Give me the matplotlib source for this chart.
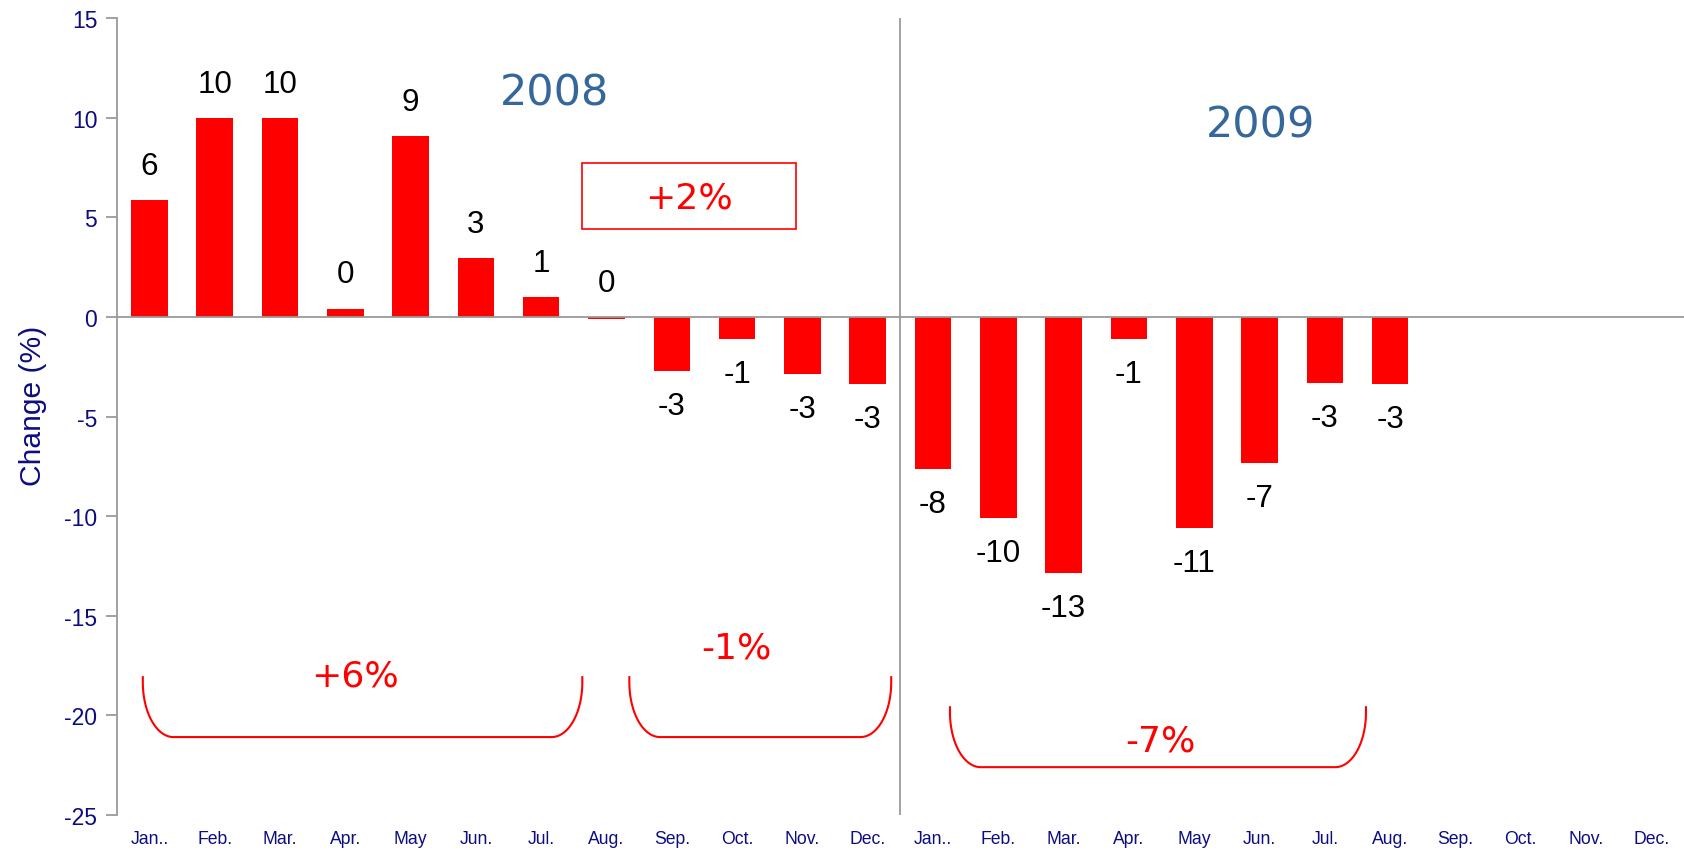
import numpy as np
import matplotlib
matplotlib.use("Agg")
import matplotlib.pyplot as plt
from matplotlib import font_manager
from matplotlib.patches import Rectangle

plt.rcParams["axes.unicode_minus"] = False

# monthly change (%), Jan 2008 .. Aug 2009
change = [5.87, 9.97, 9.97, 0.42, 9.1, 2.95, 0.99, -0.1, -2.72, -1.12, -2.87, -3.37,
          -7.63, -10.09, -12.85, -1.1, -10.59, -7.33, -3.31, -3.36]
months = ["Jan..", "Feb.", "Mar.", "Apr.", "May", "Jun.", "Jul.", "Aug.",
          "Sep.", "Oct.", "Nov.", "Dec."]
tick_labels = months + months
years = ["2008", "2009"]
periods = ["+6%", "-1%", "-7%"]
box_note = "+2%"

# condensed face if present
try:
    font_manager.findfont("Liberation Sans Narrow", fallback_to_default=False)
    narrow, k = "Liberation Sans Narrow", 1.0
except ValueError:
    narrow, k = "Liberation Sans", 0.94

navy = "#0d0d80"
grey = "#9a9a9a"
red = "#ff0000"
blue = "#35679b"

fig = plt.figure(figsize=(16.84, 8.53), dpi=100)
ax = fig.add_axes([0.0693, 0.0434, 0.9307, 0.9343])

x = np.arange(len(change))
ax.bar(x, change, width=0.56, color=red, zorder=2)

for xi, v in zip(x, change):
    lab = int(round(v))
    if lab >= 0:
        anchor, off = max(v, 0), 24.5
    else:
        anchor, off = v, -25.0
    ax.annotate(str(lab), (xi, anchor), xytext=(0, off), textcoords="offset points",
                ha="center", va="center", fontsize=24 * k, family=narrow,
                color="black")

ax.axhline(0, color=grey, lw=1.3, zorder=3)
ax.axvline(11.5, color=grey, lw=1.3, zorder=1)

ax.set_xlim(-0.5, 23.5)
ax.set_ylim(-25, 15)
ax.set_yticks(np.arange(-25, 16, 5))
ax.set_xticks(np.arange(24))
ax.set_xticklabels(tick_labels, family=narrow, fontsize=13.5 * k, color=navy)
for t in ax.get_yticklabels():
    t.set_family(narrow)
    t.set_fontsize(17.5 * k)
    t.set_color(navy)
ax.tick_params(axis="x", length=0, pad=11)
ax.tick_params(axis="y", length=8, width=1.3, color=grey, pad=6)
for s in ["top", "right", "bottom"]:
    ax.spines[s].set_visible(False)
ax.spines["left"].set_color(grey)
ax.spines["left"].set_linewidth(1.3)
ax.set_ylabel("Change (%)", family=narrow, fontsize=23 * k, color=navy)
ax.yaxis.set_label_coords(-0.0445, 0.515)

# year headings
ax.text(6.21, 11.27, years[0], ha="center", va="center", fontsize=31,
        family="DejaVu Sans", color=blue)
ax.text(17.01, 9.67, years[1], ha="center", va="center", fontsize=31,
        family="DejaVu Sans", color=blue)

# boxed note
ax.add_patch(Rectangle((6.63, 4.40), 9.90 - 6.63, 7.71 - 4.40, fill=False,
                       ec=red, lw=1.2, zorder=4))
ax.text(8.26, 6.0, box_note, ha="center", va="center", fontsize=26,
        family="DejaVu Sans", color=red)


def bracket(x0, x1, ytop, ybot, rx=0.47, ry=2.75):
    th = np.linspace(np.pi, 1.5 * np.pi, 40)
    lx = x0 + rx + rx * np.cos(th)
    ly = ybot + ry + ry * np.sin(th)
    th2 = np.linspace(1.5 * np.pi, 2 * np.pi, 40)
    rxs = x1 - rx + rx * np.cos(th2)
    rys = ybot + ry + ry * np.sin(th2)
    xs = np.concatenate([[x0], lx, rxs, [x1]])
    ys = np.concatenate([[ytop], ly, rys, [ytop]])
    ax.plot(xs, ys, color=red, lw=1.5, zorder=4, solid_capstyle="butt")


bracket(-0.10, 6.63, -18.03, -21.09)
bracket(7.35, 11.36, -18.03, -21.09)
bracket(12.26, 18.63, -19.54, -22.60)

ax.text(3.15, -18.0, periods[0], ha="center", va="center", fontsize=26,
        family="DejaVu Sans", color=red)
ax.text(8.99, -16.6, periods[1], ha="center", va="center", fontsize=26,
        family="DejaVu Sans", color=red)
ax.text(15.48, -21.25, periods[2], ha="center", va="center", fontsize=26,
        family="DejaVu Sans", color=red)

fig.savefig("out.png", dpi=100)
